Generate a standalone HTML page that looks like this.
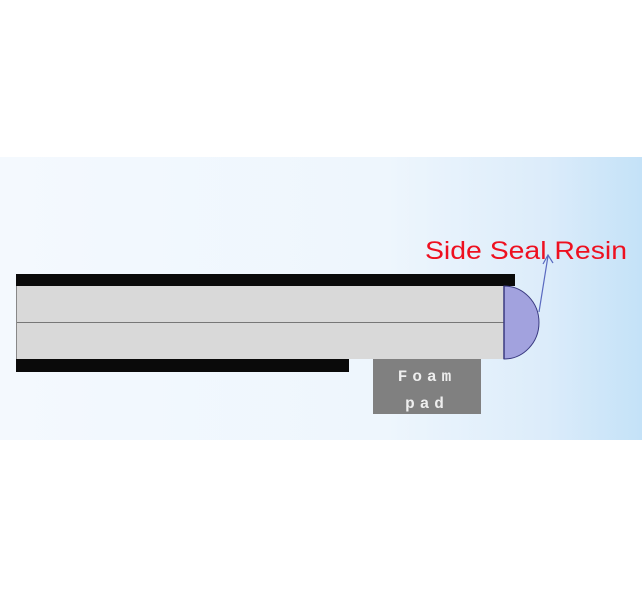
<!DOCTYPE html>
<html><head><style>
body{margin:0;width:642px;height:611px;background:#fff;position:relative;overflow:hidden;font-family:"Liberation Sans",sans-serif}
.bg{position:absolute;left:0;top:157px;width:642px;height:283px;background:linear-gradient(90deg,#f4f9fe 0%,#eef6fd 60%,#dcecfa 85%,#c4e2f8 100%)}
</style></head><body>
<div class="bg"></div>
<svg width="642" height="611" style="position:absolute;left:0;top:0">
<rect x="16" y="274" width="499" height="12" fill="#0a0a0a"/>
<rect x="16" y="286" width="488" height="73" fill="#d9d9d9"/>
<line x1="16" y1="322.5" x2="504" y2="322.5" stroke="#777" stroke-width="1"/>
<line x1="16.5" y1="286" x2="16.5" y2="359" stroke="#888" stroke-width="1"/>
<rect x="16" y="359" width="333" height="13" fill="#0a0a0a"/>
<rect x="373" y="359" width="108" height="55" fill="#808080"/>
<path d="M504 286 A35 36.5 0 0 1 504 359 Z" fill="#a2a2de" stroke="#3a3a80" stroke-width="1"/>
<line x1="504" y1="286" x2="504" y2="359" stroke="#3a3a80" stroke-width="1.5"/>
<path d="M539 312 L548 256 M543 264 L548 255 L553 263" fill="none" stroke="#5a6ac0" stroke-width="1.2"/>
<text x="425" y="259" font-size="25" fill="#ee1020" textLength="202" lengthAdjust="spacingAndGlyphs" font-family="Liberation Sans,sans-serif">Side Seal Resin</text>
<text x="427" y="381" font-size="16" font-weight="bold" fill="#eee" text-anchor="middle" letter-spacing="5" font-family="Liberation Mono,monospace">Foam</text>
<text x="427" y="408" font-size="16" font-weight="bold" fill="#eee" text-anchor="middle" letter-spacing="5" font-family="Liberation Mono,monospace">pad</text>
</svg>
</body></html>
